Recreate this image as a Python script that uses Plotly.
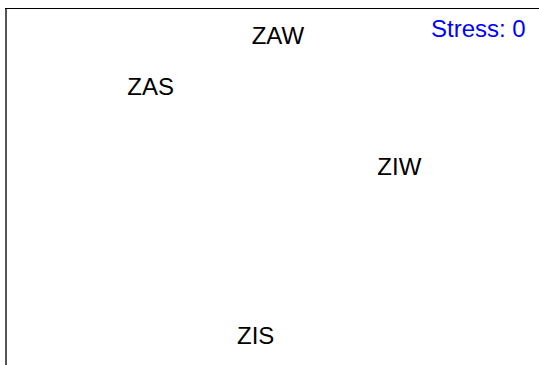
import plotly.graph_objects as go

# NMDS site scores
labels = ["ZAW", "ZAS", "ZIW", "ZIS"]
nmds1 = [0.011, -0.276, 0.285, -0.039]
nmds2 = [0.334, 0.221, 0.041, -0.339]
stress_text = "Stress: 0"

FONT = "Liberation Sans, Arial, Helvetica, sans-serif"

fig = go.Figure()
fig.add_trace(go.Scatter(
    x=nmds1, y=nmds2, text=labels, mode="text",
    textposition="middle center",
    textfont=dict(family=FONT, size=24, color="black"),
    hoverinfo="skip", showlegend=False,
))

fig.add_annotation(
    text=stress_text, xref="paper", yref="paper",
    x=0.9794, y=0.9454, xanchor="right", yanchor="middle",
    showarrow=False, font=dict(family=FONT, size=24, color="#0000FF"),
)

fig.update_xaxes(range=[-0.6, 0.6], side="top", showline=True, linecolor="black",
                 linewidth=1, showgrid=False, zeroline=False,
                 showticklabels=False, ticks="")
fig.update_yaxes(range=[-0.4, 0.4], showline=True, linecolor="#555555",
                 linewidth=2, showgrid=False, zeroline=False,
                 showticklabels=False, ticks="")

fig.update_layout(
    width=539, height=365,
    margin=dict(l=7, r=0, t=9, b=0, pad=0),
    paper_bgcolor="white", plot_bgcolor="white",
    font=dict(family=FONT),
)

fig.write_html("out.html", config={"displayModeBar": False},
               post_script="document.body.style.margin='0';")
